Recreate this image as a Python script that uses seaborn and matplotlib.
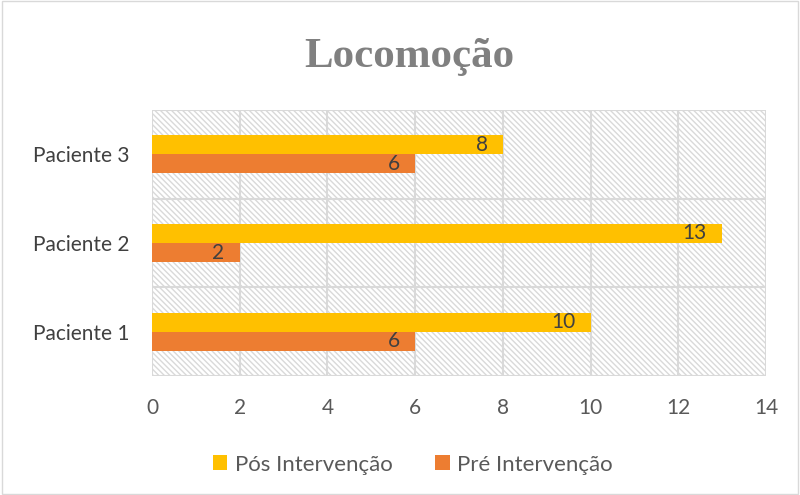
import matplotlib
matplotlib.use("Agg")
import pandas as pd
import matplotlib.pyplot as plt
import seaborn as sns
from matplotlib.patches import Rectangle

# data
pacientes = ["Paciente 1", "Paciente 2", "Paciente 3"]
pre_intervencao = [6, 2, 6]
pos_intervencao = [10, 13, 8]
series = ["Pós Intervenção", "Pré Intervenção"]
colors = ["#FFC000", "#ED7D31"]

df = pd.DataFrame({
    "paciente": pacientes * 2,
    "serie": [series[0]] * 3 + [series[1]] * 3,
    "valor": pos_intervencao + pre_intervencao,
})

sns.set_style("white")
plt.rcParams["font.family"] = ["Lato", "DejaVu Sans"]
plt.rcParams["hatch.linewidth"] = 1.0

fig = plt.figure(figsize=(8, 4.95), dpi=100)
ax = fig.add_axes([0.19, 0.2404, 0.7675, 0.5374])

# hatched plot background
ax.add_patch(Rectangle((0, 0), 1, 1, transform=ax.transAxes, facecolor="white",
                       edgecolor="#d9d9d9", hatch="\\\\\\\\\\\\", lw=0, zorder=0))

order = pacientes[::-1]
sns.barplot(data=df, y="paciente", x="valor", hue="serie", order=order,
            hue_order=series, palette=colors, width=0.43, ax=ax,
            saturation=1, linewidth=0, legend=True, zorder=3)

for cont in ax.containers:
    for t in ax.bar_label(cont, padding=-11, color="#404040", fontsize=15):
        t.set_ha("right")

ax.set_xlim(0, 14)
ax.set_ylim(2.5, -0.5)
ax.set_xticks(range(0, 15, 2))
ax.set_yticks([0, 1, 2])
ax.set_yticks([-0.5, 0.5, 1.5, 2.5], minor=True)
ax.tick_params(axis="y", which="major", length=0, pad=16, labelsize=15, labelcolor="#404040")
ax.tick_params(axis="y", which="minor", length=7, color="#d9d9d9", width=1.5)
ax.tick_params(axis="x", length=0, pad=16, labelsize=15, labelcolor="#595959")
ax.grid(axis="x", color="#d9d9d9", lw=1.5, zorder=1)
ax.grid(axis="y", which="minor", color="#d9d9d9", lw=1.5, zorder=1)
ax.set_axisbelow(True)
for s in ax.spines.values():
    s.set_visible(False)
ax.set_xlabel("")
ax.set_ylabel("")

ax.legend(loc="upper center", bbox_to_anchor=(0.425, -0.22), ncol=2, frameon=False,
          handlelength=0.65, handleheight=0.65, handletextpad=0.35, columnspacing=1.9,
          fontsize=16, labelcolor="#595959")

fig.text(0.512, 0.885, "Locomoção", ha="center", va="center", fontsize=31,
         fontweight="bold", color="#808080", family="Liberation Serif")

fig.add_artist(Rectangle((0.003, 0.003), 0.994, 0.994, transform=fig.transFigure,
                         fill=False, edgecolor="#d9d9d9", lw=1))

fig.savefig("out.png", dpi=100)
